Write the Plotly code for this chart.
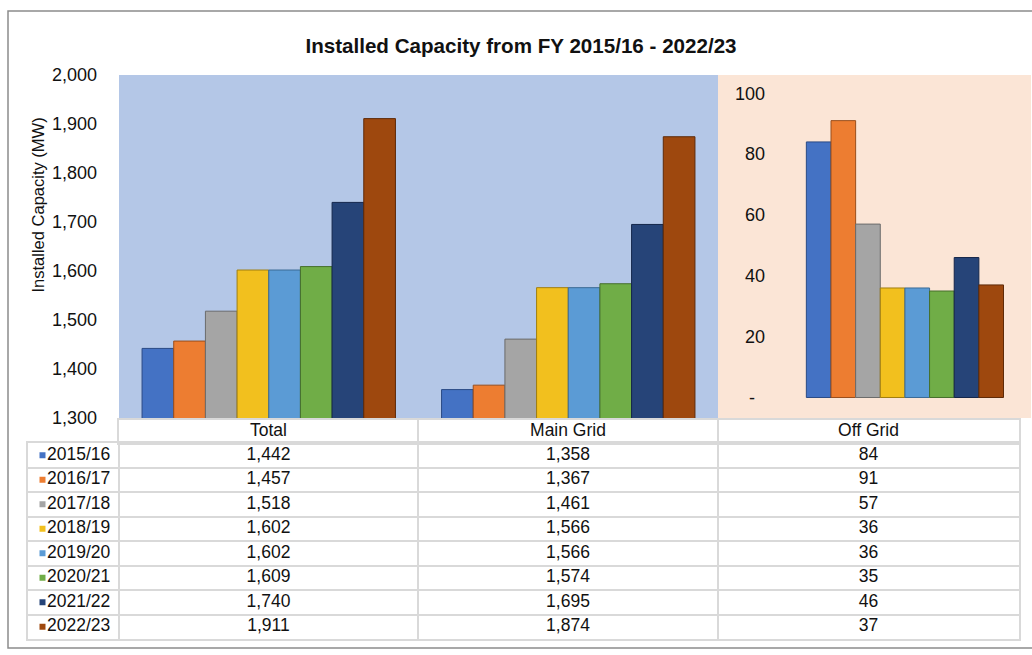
import plotly.graph_objects as go

# ---------------- data ----------------
years = ["2015/16", "2016/17", "2017/18", "2018/19", "2019/20", "2020/21", "2021/22", "2022/23"]
left_categories = ["Total", "Main Grid"]
right_categories = ["Off Grid"]
total = [1442, 1457, 1518, 1602, 1602, 1609, 1740, 1911]
main_grid = [1358, 1367, 1461, 1566, 1566, 1574, 1695, 1874]
off_grid = [84, 91, 57, 36, 36, 35, 46, 37]
left_ticks = [1300, 1400, 1500, 1600, 1700, 1800, 1900, 2000]
right_tickvals = [0, 20, 40, 60, 80, 100]
right_ticktext = ["-\u00a0\u00a0", "20", "40", "60", "80", "100"]

# ---------------- style / layout ----------------
colors = ["#4472C4", "#ED7D31", "#A5A5A5", "#F2C01E", "#5B9BD5", "#70AD47", "#264478", "#9E480E"]
edges = ["#2A4A85", "#9A4E1C", "#6B6B6B", "#A07E10", "#3B6A95", "#466F2C", "#14264A", "#5E2A08"]
FONT = "Liberation Sans, Arial, sans-serif"
TXT = "#111111"
GRID = "#D9D9D9"
W, H = 1032, 655
col_edges = [0, 91, 390, 690, 991]          # data-table column boundaries (table units = px)
label_pad, key_pos = 19, 14.5               # positions inside the first table column


def px_x(v):
    return v / W


def px_y(v):
    return 1 - v / H


fig = go.Figure()
for i, yr in enumerate(years):
    fig.add_bar(
        x=left_categories, y=[total[i], main_grid[i]], name=yr,
        xaxis="x", yaxis="y", showlegend=False, hoverinfo="skip",
        marker=dict(color=colors[i], line=dict(color=edges[i], width=1)),
    )
    fig.add_bar(
        x=right_categories, y=[off_grid[i]], name=yr,
        xaxis="x2", yaxis="y2", showlegend=False, hoverinfo="skip",
        marker=dict(color=colors[i], line=dict(color=edges[i], width=1)),
    )

# ---------------- data table (drawn on its own axes) ----------------
centers = [(a + b) / 2 for a, b in zip(col_edges[:-1], col_edges[1:])]
rows = [i + 0.5 for i in range(len(years))]
fmt = lambda arr: [f"{v:,}" for v in arr]
tfont = dict(family=FONT, size=17.5, color=TXT)

fig.add_scatter(  # header
    x=centers[1:], y=[0.5] * 3, text=left_categories + right_categories,
    mode="text", textposition="middle center", textfont=tfont,
    xaxis="x4", yaxis="y4", showlegend=False, hoverinfo="skip",
)
for c, vals in enumerate([total, main_grid, off_grid], start=1):
    fig.add_scatter(
        x=[centers[c]] * len(vals), y=rows, text=fmt(vals),
        mode="text", textposition="middle center", textfont=tfont,
        xaxis="x3", yaxis="y3", showlegend=False, hoverinfo="skip",
    )
fig.add_scatter(  # row labels
    x=[label_pad] * len(years), y=rows, text=years,
    mode="text", textposition="middle right", textfont=tfont,
    xaxis="x3", yaxis="y3", showlegend=False, hoverinfo="skip",
)
fig.add_scatter(  # legend keys
    x=[key_pos] * len(years), y=rows, mode="markers",
    marker=dict(symbol="square", size=6, color=colors, line=dict(width=0)),
    xaxis="x3", yaxis="y3", showlegend=False, hoverinfo="skip",
)

table_axis = dict(showticklabels=False, ticks="", zeroline=False, automargin=False,
                  showgrid=True, gridcolor=GRID, gridwidth=1.5,
                  showline=True, mirror=True, linecolor=GRID, linewidth=1.5,
                  fixedrange=True)

fig.update_layout(
    width=W, height=H,
    margin=dict(l=0, r=0, t=0, b=0, autoexpand=False),
    paper_bgcolor="white",
    plot_bgcolor="white",
    barmode="group",
    bargap=0.154,
    bargroupgap=0,
    font=dict(family=FONT, color=TXT),
    title=dict(
        text="<b>Installed Capacity from FY 2015/16 - 2022/23</b>",
        x=px_x(521), xanchor="center", xref="container",
        y=px_y(46), yanchor="middle", yref="container",
        font=dict(family=FONT, size=20.6, color=TXT),
    ),
    xaxis=dict(
        domain=[px_x(119), px_x(718)], anchor="y", automargin=False,
        range=[-0.5, 1.5], showticklabels=False, showgrid=False, zeroline=False,
    ),
    yaxis=dict(
        domain=[px_y(418), px_y(75)], anchor="x", automargin=False,
        range=[1300, 2000], tickvals=left_ticks, tickformat=",",
        showgrid=False, zeroline=False, ticks="",
        ticklabelstandoff=21,
        tickfont=dict(family=FONT, size=18, color=TXT),
    ),
    xaxis2=dict(
        domain=[px_x(770), px_x(1031)], anchor="y2", automargin=False,
        range=[-0.579, 0.541], showticklabels=False, showgrid=False, zeroline=False,
    ),
    yaxis2=dict(
        domain=[px_y(418), px_y(75)], anchor="x2", automargin=False,
        range=[-6.74, 106], tickvals=right_tickvals, ticktext=right_ticktext,
        showgrid=False, zeroline=False, ticks="",
        ticklabelstandoff=4,
        tickfont=dict(family=FONT, size=18, color=TXT),
    ),
    # table body
    xaxis3=dict(domain=[px_x(28), px_x(1019)], anchor="y3",
                range=[col_edges[0], col_edges[-1]], tickvals=col_edges[1:-1], **table_axis),
    yaxis3=dict(domain=[px_y(639), px_y(443)], anchor="x3",
                range=[len(years), 0], tickvals=list(range(1, len(years))), **table_axis),
    # table header
    xaxis4=dict(domain=[px_x(28 + col_edges[1]), px_x(1019)], anchor="y4",
                range=[col_edges[1], col_edges[-1]], tickvals=col_edges[2:-1], **table_axis),
    yaxis4=dict(domain=[px_y(443), px_y(420)], anchor="x4",
                range=[1, 0], tickvals=[], **table_axis),
    annotations=[
        dict(text="Installed Capacity (MW)", textangle=-90, showarrow=False,
             xref="paper", yref="paper", x=px_x(37.5), y=px_y(205),
             xanchor="center", yanchor="middle",
             font=dict(family=FONT, size=16.5, color=TXT)),
    ],
    shapes=[
        dict(type="rect", xref="paper", yref="paper", layer="below",
             x0=px_x(119), x1=px_x(718), y0=px_y(418), y1=px_y(75),
             fillcolor="#B4C7E7", line=dict(width=0)),
        dict(type="rect", xref="paper", yref="paper", layer="below",
             x0=px_x(718), x1=px_x(1031), y0=px_y(418), y1=px_y(75),
             fillcolor="#FBE5D6", line=dict(width=0)),
        dict(type="rect", xref="paper", yref="paper", layer="below",
             x0=px_x(8), x1=px_x(1040), y0=px_y(648), y1=px_y(11),
             fillcolor="rgba(0,0,0,0)", line=dict(color="#8C8C8C", width=1.5)),
    ],
)

fig.write_html(
    "out.html",
    config={"displayModeBar": False},
    post_script="document.body.style.margin='0';",
)
